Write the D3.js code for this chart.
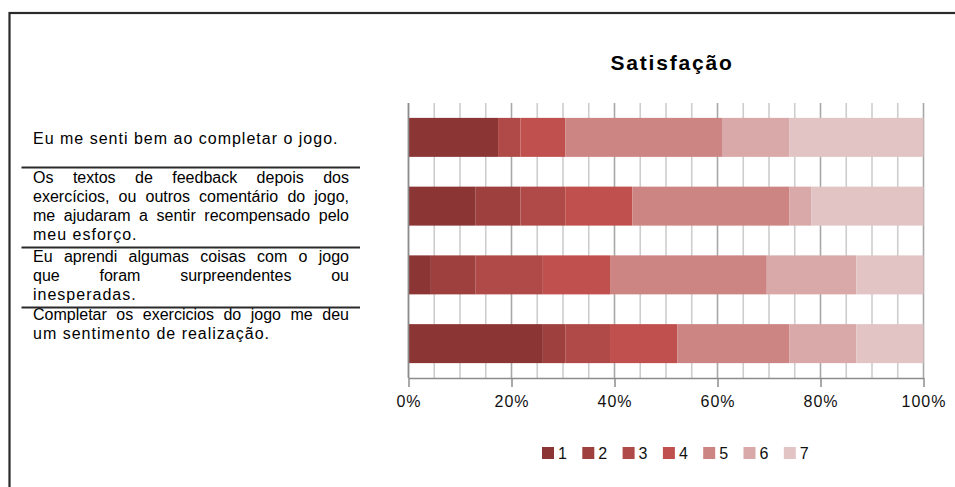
<!DOCTYPE html>
<html>
<head>
<meta charset="utf-8">
<script src="https://cdn.jsdelivr.net/npm/d3@7"></script>
<style>
  html, body { margin: 0; padding: 0; background: #fff; }
  svg { display: block; font-family: "Liberation Sans", Arial, sans-serif; }
</style>
</head>
<body>
<div id="chart"></div>
<script>
// question labels, already split in the lines of the original
const questions = [
  ["Eu me senti bem ao completar o jogo."],
  ["Os textos de feedback depois dos",
   "exercícios, ou outros comentário do jogo,",
   "me ajudaram a sentir recompensado pelo",
   "meu esforço."],
  ["Eu aprendi algumas coisas com o jogo",
   "que foram surpreendentes ou",
   "inesperadas."],
  ["Completar os exercicios do jogo me deu",
   "um sentimento de realização."]
];
const categories = ["q1", "q2", "q3", "q4"];
const levels = ["1", "2", "3", "4", "5", "6", "7"];
// answer counts per level (1..7), one array per question
const counts1 = [4, 0, 1, 2, 7, 3, 6];
const counts2 = [3, 2, 2, 3, 7, 1, 5];
const counts3 = [1, 2, 3, 3, 7, 4, 3];
const counts4 = [6, 1, 2, 3, 5, 3, 3];
const tickValues = [0, 0.2, 0.4, 0.6, 0.8, 1];
const colors = ["#8b3634", "#9e403e", "#af4a48", "#c0504d", "#cd8584", "#d9a8a8", "#e2c4c4"];

const W = 955, H = 487;
const plot = { left: 408.5, right: 923.5, top: 103, bottom: 378 };

const rows = [counts1, counts2, counts3, counts4].map((c, i) => {
  const r = { cat: categories[i] };
  levels.forEach((l, j) => (r[l] = c[j]));
  return r;
});
const series = d3.stack().keys(levels).offset(d3.stackOffsetExpand)(rows);

const svg = d3.select("#chart").append("svg").attr("width", W).attr("height", H);

// outer frame (runs off the right and bottom edges)
svg.append("rect")
  .attr("x", 9.5).attr("y", 13)
  .attr("width", 980).attr("height", 500)
  .attr("fill", "none").attr("stroke", "#2a2a2a").attr("stroke-width", 2.2);

const x = d3.scaleLinear().domain([0, 1]).range([plot.left, plot.right]);
const y = d3.scaleBand().domain(categories).range([plot.top, plot.bottom])
  .paddingInner(0.433).paddingOuter(0.2165);
const color = d3.scaleOrdinal().domain(levels).range(colors);

// vertical gridlines: minor every 4%, major every 20%
svg.append("g")
  .selectAll("line")
  .data(x.ticks(25))
  .join("line")
  .attr("x1", (d) => x(d)).attr("x2", (d) => x(d))
  .attr("y1", plot.top).attr("y2", plot.bottom)
  .attr("stroke", (d) => (Math.round(d * 100) % 20 === 0 ? "#a8a8a8" : "#cdcdcd"))
  .attr("stroke-width", 1.6);

// stacked bars
svg.append("g")
  .selectAll("g")
  .data(series)
  .join("g")
  .attr("fill", (s) => color(s.key))
  .selectAll("rect")
  .data((s) => s)
  .join("rect")
  .attr("x", (d) => x(d[0]))
  .attr("y", (d) => y(d.data.cat))
  .attr("width", (d) => x(d[1]) - x(d[0]))
  .attr("height", y.bandwidth());

// axes
svg.append("line")
  .attr("x1", plot.left).attr("x2", plot.left)
  .attr("y1", plot.top).attr("y2", plot.bottom)
  .attr("stroke", "#8c8c8c").attr("stroke-width", 1.5);

const xAxis = svg.append("g")
  .attr("transform", `translate(0,${plot.bottom})`)
  .call(d3.axisBottom(x).tickValues(tickValues).tickFormat(d3.format(".0%")).tickSize(9).tickSizeOuter(0));
xAxis.select(".domain").attr("stroke", "#8c8c8c").attr("stroke-width", 1.5);
xAxis.selectAll(".tick line").attr("stroke", "#8c8c8c").attr("stroke-width", 1.5);
xAxis.selectAll(".tick text")
  .attr("y", 29)
  .attr("dy", 0)
  .attr("fill", "#111")
  .attr("font-size", "16px")
  .attr("letter-spacing", "1px")
  .attr("font-family", "Liberation Sans, Arial, sans-serif");

// title
svg.append("text")
  .attr("x", 672).attr("y", 70)
  .attr("text-anchor", "middle")
  .attr("font-size", "21px")
  .attr("font-weight", "bold")
  .attr("letter-spacing", "1.8px")
  .attr("fill", "#000")
  .text("Satisfação");

// legend
const legend = svg.append("g").attr("transform", "translate(542,447)");
const item = legend.selectAll("g").data(levels).join("g")
  .attr("transform", (d, i) => `translate(${i * 40.3},0)`);
item.append("rect").attr("width", 12).attr("height", 12).attr("fill", (d) => color(d));
item.append("text")
  .attr("x", 16).attr("y", 11.5)
  .attr("font-size", "16px")
  .attr("fill", "#111")
  .text((d) => d);

// question labels on the left, justified like the source document
const textLeft = 33, textRight = 349, lineH = 19;
const firstBaselines = [143.5, 182.5, 261.5, 319.5];
const separators = [167.5, 247.5, 307.5];

const labels = svg.append("g").attr("font-size", "16px").attr("fill", "#000");
questions.forEach((lines, qi) => {
  lines.forEach((line, li) => {
    const baseline = firstBaselines[qi] + li * lineH;
    if (li === lines.length - 1) {
      labels.append("text")
        .attr("x", textLeft).attr("y", baseline)
        .attr("letter-spacing", "1px")
        .text(line);
      return;
    }
    // justified: spread the words so the line fills the column
    const words = line.split(" ");
    const t = labels.append("text").attr("y", baseline);
    const spans = t.selectAll("tspan").data(words).join("tspan").text((d) => d);
    const widths = [];
    spans.each(function () { widths.push(this.getComputedTextLength()); });
    const total = d3.sum(widths);
    const avail = textRight - textLeft;
    const gap = (avail - total) / (words.length - 1);
    if (gap < 3) {
      t.selectAll("tspan").remove();
      t.attr("x", textLeft).text(line)
        .attr("textLength", avail).attr("lengthAdjust", "spacingAndGlyphs");
      return;
    }
    let cx = textLeft;
    spans.attr("x", (d, i) => {
      const px = cx;
      cx += widths[i] + gap;
      return px;
    });
  });
});

svg.append("g")
  .selectAll("line")
  .data(separators)
  .join("line")
  .attr("x1", 21.5).attr("x2", 360)
  .attr("y1", (d) => d).attr("y2", (d) => d)
  .attr("stroke", "#2a2a2a").attr("stroke-width", 2);
</script>
</body>
</html>
